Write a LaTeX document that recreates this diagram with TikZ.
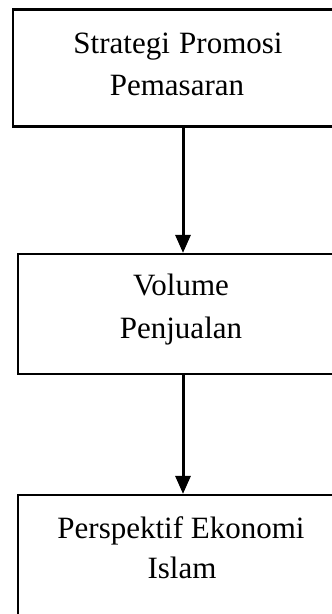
\documentclass[tikz,border=0pt]{standalone}
\usepackage{fontspec}
\setmainfont{Liberation Serif}
\usetikzlibrary{arrows.meta}
\tikzset{
  boxnode/.style={draw=black, line width=2.2pt, minimum width=#1, inner sep=0pt},
  txt/.style={anchor=base, inner sep=0pt, font=\fontsize{31}{37}\selectfont},
  arr/.style={line width=3pt, -{Triangle[length=18pt,width=15pt]}}
}
\begin{document}
\begin{tikzpicture}[x=1pt,y=-1pt]
\useasboundingbox (0,0) rectangle (332,614);
\clip (0,0) rectangle (332,614);
\fill[white] (0,0) rectangle (332,614);
% boxes (extend past the right edge, as in the reference)
\node[boxnode=328pt, minimum height=117pt] (b1) at (177,68) {};
\node[boxnode=326pt, minimum height=120pt] (b2) at (181,314) {};
\node[boxnode=326pt, minimum height=160pt] (b3) at (181,575) {};
% texts
\node[txt] (t1a) at (178,53) {Strategi\hspace{0.3em}Promosi};
\node[txt] (t1b) at (177,95) {Pemasaran};
\node[txt] (t2a) at (181,295) {Volume};
\node[txt] (t2b) at (181,338) {Penjualan};
\node[txt] (t3a) at (181,538) {Perspektif\hspace{0.25em}Ekonomi};
\node[txt] (t3b) at (182,578) {Islam};
% connectors
\coordinate (ax) at (183,0);
\draw[arr] (b1.south -| ax) -- (b2.north -| ax);
\draw[arr] (b2.south -| ax) -- (b3.north -| ax);
\end{tikzpicture}
\end{document}
